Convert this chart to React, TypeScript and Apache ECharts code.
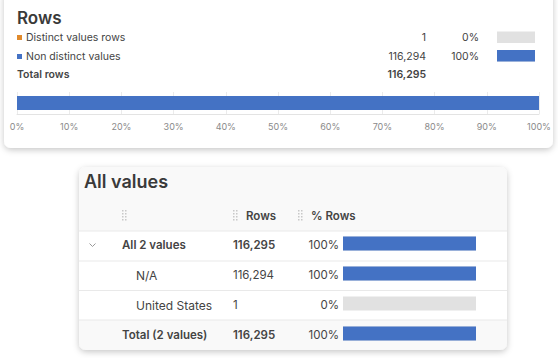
import React, { useEffect, useRef } from "react";
import * as echarts from "echarts";

const legendCategories = ["Distinct values rows", "Non distinct values"];
const legendCounts = [1, 116294];
const totalRows = 116295;
const axisTicks = [0, 10, 20, 30, 40, 50, 60, 70, 80, 90, 100];

const tableLabels = ["All 2 values", "N/A", "United States", "Total (2 values)"];
const tableCounts = [116295, 116294, 1, 116295];
const tableBold = [true, false, false, true];
const tableIndent = [0, 1, 1, 0];

const BLUE = "#4472C4";
const ORANGE = "#E08A2C";
const TRACK = "#E1E1E1";
const FONT = "Inter, 'Noto Sans', sans-serif";

const fmt = (n: number) => n.toLocaleString("en-US");
const pct = (n: number) => (n / totalRows) * 100;
const pctLabel = (n: number) => Math.round(pct(n)) + "%";

function txt(x: number, y: number, s: string, o: any = {}) {
  return {
    type: "text",
    x,
    y,
    z: 50,
    style: {
      text: s,
      fill: o.fill || "#444",
      fontSize: o.size || 11,
      fontWeight: o.weight || 400,
      fontFamily: FONT,
      textAlign: o.align || "left",
      textVerticalAlign: "middle",
    },
  };
}

function handle(x: number, y: number) {
  const dots: any[] = [];
  for (let c = 0; c < 2; c++)
    for (let r = 0; r < 4; r++)
      dots.push({
        type: "rect",
        z: 50,
        shape: { x: x + c * 3, y: y + r * 3, width: 1.5, height: 1.5 },
        style: { fill: "#C8C8C8" },
      });
  return dots;
}

export default function App() {
  const ref = useRef<HTMLDivElement>(null);
  useEffect(() => {
    if (!ref.current) return;
    const chart = echarts.init(ref.current, null, { renderer: "svg" });
    const L = 10.5;

    const graphics: any[] = [
      {
        type: "rect",
        z: -10,
        shape: { x: 4, y: -12, width: 549, height: 160, r: 7 },
        style: { fill: "#fff", shadowBlur: 6, shadowColor: "rgba(0,0,0,0.22)", shadowOffsetY: 2 },
      },
      {
        type: "rect",
        z: -10,
        shape: { x: 79, y: 167, width: 428, height: 183, r: 7 },
        style: { fill: "#F9F9F9", shadowBlur: 6, shadowColor: "rgba(0,0,0,0.22)", shadowOffsetY: 2 },
      },
      {
        type: "rect",
        z: -9,
        shape: { x: 79, y: 231, width: 428, height: 89 },
        style: { fill: "#fff" },
      },
      txt(17, 18, "Rows", { size: 17, weight: 600, fill: "#3a3a3a" }),
      { type: "rect", z: 50, shape: { x: 17, y: 35, width: 5, height: 5 }, style: { fill: ORANGE } },
      { type: "rect", z: 50, shape: { x: 17, y: 54, width: 5, height: 5 }, style: { fill: BLUE } },
      txt(26, 37.5, legendCategories[0], { size: L }),
      txt(26, 56.5, legendCategories[1], { size: L }),
      txt(17, 74.5, "Total rows", { weight: 600, size: L }),
      txt(426, 37.5, fmt(legendCounts[0]), { align: "right", size: L }),
      txt(426, 56.5, fmt(legendCounts[1]), { align: "right", size: L }),
      txt(426, 74.5, fmt(totalRows), { align: "right", weight: 600, size: L }),
      txt(479, 37.5, pctLabel(legendCounts[0]), { align: "right", size: L }),
      txt(479, 56.5, pctLabel(legendCounts[1]), { align: "right", size: L }),
      txt(84, 181, "All values", { size: 18, weight: 600, fill: "#3a3a3a" }),
      ...handle(122, 210),
      ...handle(233, 210),
      ...handle(298, 210),
      txt(246, 216, "Rows", { weight: 600, size: 11.5 }),
      txt(311, 216, "% Rows", { weight: 600, size: 11.5 }),
      {
        type: "polyline",
        z: 50,
        shape: { points: [[89.5, 243.5], [92.5, 246.5], [95.5, 243.5]] },
        style: { stroke: "#999", lineWidth: 1, fill: "none" },
      },
    ];

    [231, 261, 290.5, 320].forEach((y) =>
      graphics.push({
        type: "line",
        z: 40,
        shape: { x1: 79, y1: y, x2: 507, y2: y },
        style: { stroke: "#E9E9E9", lineWidth: 1 },
      })
    );

    const rowY = [245, 275, 305, 334.5];
    tableLabels.forEach((lab, i) => {
      const w = tableBold[i] ? 600 : 400;
      graphics.push(txt(122 + tableIndent[i] * 14, rowY[i], lab, { weight: w, size: tableBold[i] ? 11.5 : 12 }));
      graphics.push(txt(233, rowY[i], fmt(tableCounts[i]), { weight: w, size: 11.5 }));
      graphics.push(txt(339, rowY[i], pctLabel(tableCounts[i]), { size: 11.5, align: "right" }));
    });

    chart.setOption({
      animation: false,
      grid: [
        { left: 17, right: 19, top: 92, height: 22 },
        { left: 497, width: 38, top: 28, height: 37 },
        { left: 343, width: 133, top: 228.5, height: 120 },
      ],
      xAxis: [
        {
          gridIndex: 0,
          type: "value",
          min: axisTicks[0],
          max: axisTicks[axisTicks.length - 1],
          interval: 10,
          axisLabel: { formatter: "{value}%", color: "#8a8a8a", fontSize: 9, margin: 8, fontFamily: FONT },
          axisLine: { show: true, lineStyle: { color: "#E3E3E3" } },
          axisTick: { show: false },
          splitLine: { show: true, lineStyle: { color: "#EBEBEB" } },
        },
        { gridIndex: 1, type: "value", min: 0, max: 100, show: false },
        { gridIndex: 2, type: "value", min: 0, max: 100, show: false },
      ],
      yAxis: [
        { gridIndex: 0, type: "category", data: ["Rows"], show: false },
        { gridIndex: 1, type: "category", data: legendCategories, inverse: true, show: false },
        { gridIndex: 2, type: "category", data: tableLabels, inverse: true, show: false },
      ],
      series: [
        {
          type: "bar",
          name: legendCategories[0],
          xAxisIndex: 0,
          yAxisIndex: 0,
          stack: "rows",
          barWidth: 14,
          itemStyle: { color: ORANGE },
          data: [pct(legendCounts[0])],
        },
        {
          type: "bar",
          name: legendCategories[1],
          xAxisIndex: 0,
          yAxisIndex: 0,
          stack: "rows",
          barWidth: 14,
          itemStyle: { color: BLUE },
          data: [pct(legendCounts[1])],
        },
        {
          type: "bar",
          xAxisIndex: 1,
          yAxisIndex: 1,
          barWidth: 11.5,
          showBackground: true,
          backgroundStyle: { color: TRACK },
          itemStyle: { color: BLUE },
          data: legendCounts.map(pct),
        },
        {
          type: "bar",
          xAxisIndex: 2,
          yAxisIndex: 2,
          barWidth: 14,
          showBackground: true,
          backgroundStyle: { color: TRACK },
          itemStyle: { color: BLUE },
          data: tableCounts.map(pct),
        },
      ],
      graphic: graphics,
    });
    return () => chart.dispose();
  }, []);

  return (
    <div
      ref={ref}
      style={{ position: "fixed", left: 0, top: 0, width: 558, height: 358, background: "#fff" }}
    />
  );
}
